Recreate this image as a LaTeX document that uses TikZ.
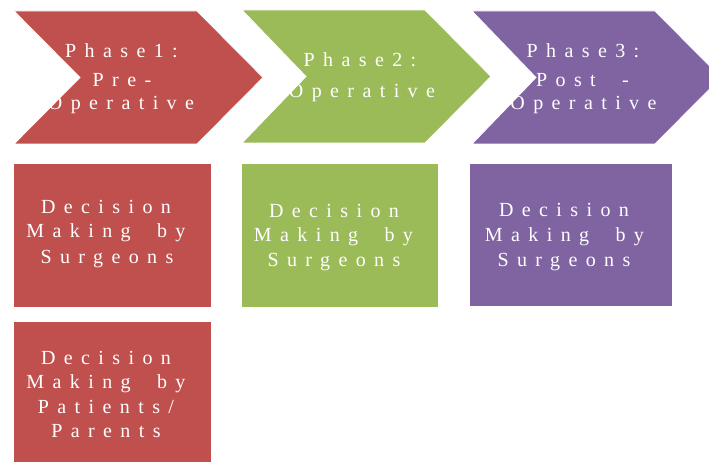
\documentclass[tikz,border=0pt]{standalone}
\usepackage{fontspec}
\newfontfamily\spc[LetterSpace=42]{Liberation Serif}
\definecolor{cred}{HTML}{C0504D}
\definecolor{cgreen}{HTML}{9BBB59}
\definecolor{cpurple}{HTML}{8064A2}
\newcommand\wsp{\hspace{13pt} }
\begin{document}
\begin{tikzpicture}[x=1pt,y=-1pt,
  shapeedge/.style={draw=white,line width=0.8pt},
  lbl/.style={text=white,font=\spc\fontsize{20}{24}\selectfont,inner sep=0pt,anchor=base}]
\useasboundingbox (0,0) rectangle (709,462);
\clip (0,0) rectangle (709,462);
% chevrons
\path[shapeedge,fill=cred] (14,11) -- (197,11) -- (263,77.5) -- (197,144) -- (14,144) -- (80,77.5) -- cycle;
\path[shapeedge,fill=cgreen] (242,10) -- (425,10) -- (491,76.5) -- (425,143) -- (242,143) -- (306,76.5) -- cycle;
\path[shapeedge,fill=cpurple] (472,11) -- (655,11) -- (721,77.5) -- (655,144) -- (472,144) -- (536,77.5) -- cycle;
% boxes
\path[shapeedge,fill=cred] (13,163) rectangle (211,307);
\path[shapeedge,fill=cgreen] (241,163) rectangle (438,307);
\path[shapeedge,fill=cpurple] (469,163) rectangle (672,306);
\path[shapeedge,fill=cred] (13,321) rectangle (211,470);
% chevron texts
\node[lbl] (c1a) at (121.5,57.5) {Phase1:};
\node[lbl] (c1b) at (122,87) {Pre-};
\node[lbl] (c1c) at (121,109.5) {Operative};
\node[lbl] (c2a) at (360,67) {Phase2:};
\node[lbl] (c2b) at (362,98) {Operative};
\node[lbl] (c3a) at (583,58) {Phase3:};
\node[lbl] (c3b) at (582.5,87) {Post\wsp-};
\node[lbl] (c3c) at (583.5,110) {Operative};
% box texts
\node[lbl] (b1a) at (106,214) {Decision};
\node[lbl] (b1b) at (106,238) {Making\wsp by};
\node[lbl] (b1c) at (107,263) {Surgeons};
\node[lbl] (b2a) at (334,218) {Decision};
\node[lbl] (b2b) at (333.5,242) {Making\wsp by};
\node[lbl] (b2c) at (334,267) {Surgeons};
\node[lbl] (b3a) at (564,217) {Decision};
\node[lbl] (b3b) at (564.5,241.5) {Making\wsp by};
\node[lbl] (b3c) at (564,266) {Surgeons};
\node[lbl] (b4a) at (106,364) {Decision};
\node[lbl] (b4b) at (106,388) {Making\wsp by};
\node[lbl] (b4c) at (106,413) {Patients/};
\node[lbl] (b4d) at (106,437) {Parents};
\end{tikzpicture}
\end{document}
